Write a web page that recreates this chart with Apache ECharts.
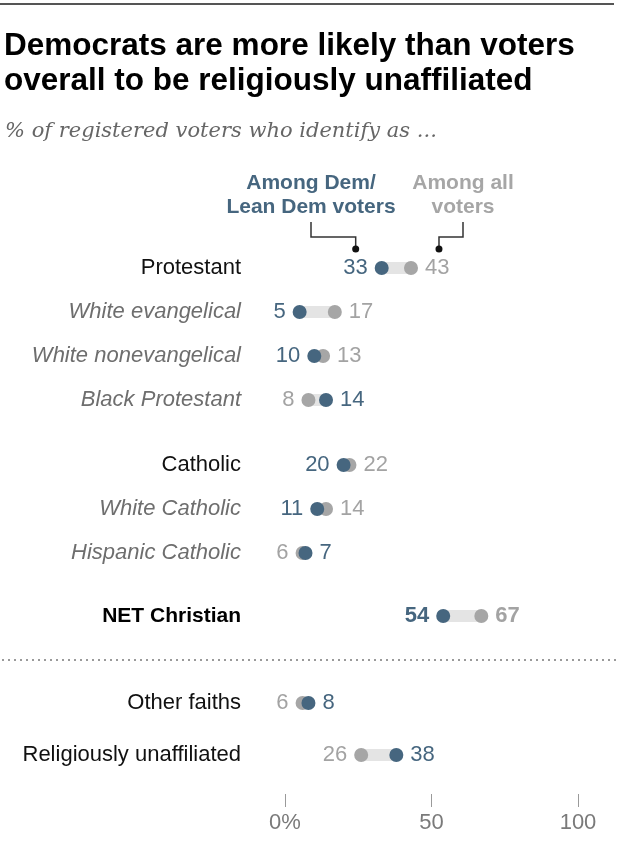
<!DOCTYPE html>
<html><head><meta charset="utf-8">
<script src="https://cdn.jsdelivr.net/npm/echarts@6/dist/echarts.min.js"></script>
<style>html,body{margin:0;padding:0;background:#fff}#c{width:620px;height:845px}</style>
</head><body><div id="c"></div>
<script>
// ---- data ----
const protestantCats = ['Protestant', 'White evangelical', 'White nonevangelical', 'Black Protestant'];
const protestantDem = [33, 5, 10, 14];
const protestantAll = [43, 17, 13, 8];
const catholicCats = ['Catholic', 'White Catholic', 'Hispanic Catholic'];
const catholicDem = [20, 11, 7];
const catholicAll = [22, 14, 6];
const netCats = ['NET Christian'];
const netDem = [54];
const netAll = [67];
const otherCats = ['Other faiths', 'Religiously unaffiliated'];
const otherDem = [8, 38];
const otherAll = [6, 26];
const subRows = ['White evangelical', 'White nonevangelical', 'Black Protestant', 'White Catholic', 'Hispanic Catholic'];
const xTickValues = [0, 50, 100];
const xTickLabels = ['0%', '50', '100'];
const titleLines = ['Democrats are more likely than voters', 'overall to be religiously unaffiliated'];
const subtitleText = '% of registered voters who identify as ...';
const demLabel = 'Among Dem/\nLean Dem voters';
const allLabel = 'Among all\nvoters';

// ---- style ----
const DEM = '#46667f', ALL = '#a6a6a6', ALLTXT = '#a3a3a3', BAR = '#e4e4e4';
const SANS = '"Liberation Sans", Arial, sans-serif';
const SERIF = '"DejaVu Serif", "Liberation Serif", serif';

const groups = [
  { cats: protestantCats, dem: protestantDem, all: protestantAll, top: 246, step: 44 },
  { cats: catholicCats, dem: catholicDem, all: catholicAll, top: 443, step: 44 },
  { cats: netCats, dem: netDem, all: netAll, top: 594, step: 44, bold: true },
  { cats: otherCats, dem: otherDem, all: otherAll, top: 677, step: 52, axis: true }
];

const grid = [], xAxis = [], yAxis = [], series = [];
groups.forEach((g, i) => {
  grid.push({ left: 285, width: 293, top: g.top, height: g.step * g.cats.length });
  xAxis.push({
    type: 'value', gridIndex: i, min: 0, max: 100, interval: 50,
    show: !!g.axis, offset: 13,
    axisLine: { show: false },
    axisTick: { show: true, length: 13, lineStyle: { color: '#9a9a9a', width: 1 } },
    splitLine: { show: false },
    axisLabel: {
      margin: 18, fontSize: 22, color: '#7a7a7a', fontFamily: SANS,
      formatter: v => { const k = xTickValues.indexOf(v); return k >= 0 ? xTickLabels[k] : ''; }
    }
  });
  yAxis.push({
    type: 'category', gridIndex: i, data: g.cats, inverse: true,
    axisLine: { show: false }, axisTick: { show: false }, splitLine: { show: false },
    axisLabel: {
      margin: 44, fontFamily: SANS,
      formatter: name => subRows.indexOf(name) >= 0 ? '{s|' + name + '}' : (g.bold ? '{b|' + name + '}' : '{m|' + name + '}'),
      rich: {
        s: { fontSize: 22, fontStyle: 'italic', color: '#6e6e6e', fontFamily: SANS },
        m: { fontSize: 22, color: '#111', fontFamily: SANS },
        b: { fontSize: 21, fontWeight: 'bold', color: '#000', fontFamily: SANS }
      }
    }
  });
  series.push({
    type: 'custom', xAxisIndex: i, yAxisIndex: i, z: 1, silent: true,
    encode: { x: [0, 1], y: 2 },
    data: g.cats.map((c, j) => [g.dem[j], g.all[j], j]),
    renderItem: (params, api) => {
      const a = api.coord([api.value(0), api.value(2)]);
      const b = api.coord([api.value(1), api.value(2)]);
      return { type: 'rect', shape: { x: Math.min(a[0], b[0]), y: a[1] - 6, width: Math.abs(b[0] - a[0]), height: 12 }, style: { fill: BAR } };
    }
  });
  const mk = (vals, other, color, txt, z) => ({
    type: 'scatter', xAxisIndex: i, yAxisIndex: i, z: z, symbolSize: 14, silent: true,
    itemStyle: { color: color, opacity: 1 },
    data: g.cats.map((c, j) => ({
      value: [vals[j], j],
      label: { position: vals[j] < other[j] ? 'left' : 'right' }
    })),
    label: {
      show: true, distance: 7, fontSize: 22, color: txt, fontFamily: SANS,
      fontWeight: g.bold ? 'bold' : 'normal',
      formatter: p => String(p.value[0])
    }
  });
  series.push(mk(g.all, g.dem, ALL, ALLTXT, 2));
  series.push(mk(g.dem, g.all, DEM, DEM, 3));
});

const chart = echarts.init(document.getElementById('c'), null, { renderer: 'canvas' });
chart.setOption({
  animation: false,
  backgroundColor: '#fff',
  grid, xAxis, yAxis, series
});

// annotation positioned from data coordinates
const pDem = chart.convertToPixel({ xAxisIndex: 0, yAxisIndex: 0 }, [protestantDem[0], 0]);
const pAll = chart.convertToPixel({ xAxisIndex: 0, yAxisIndex: 0 }, [protestantAll[0], 0]);
const dDemX = pDem[0] - 26, dAllX = pAll[0] + 28, dY = pDem[1] - 19;
const demTxtX = 311, allTxtX = 463;
chart.setOption({
  graphic: [
    { type: 'line', shape: { x1: 0, y1: 4, x2: 614, y2: 4 }, style: { stroke: '#555', lineWidth: 2 } },
    { type: 'text', x: 4, y: 46, style: { text: titleLines[0], fill: '#000', font: 'bold 31.5px ' + SANS, textVerticalAlign: 'middle' } },
    { type: 'text', x: 4, y: 81, style: { text: titleLines[1], fill: '#000', font: 'bold 31.5px ' + SANS, textVerticalAlign: 'middle' } },
    { type: 'text', x: 5, y: 132, style: { text: subtitleText, fill: '#666', font: 'italic 21px ' + SERIF, textVerticalAlign: 'middle' } },
    { type: 'line', shape: { x1: 2, y1: 660, x2: 618, y2: 660 }, style: { stroke: '#9a9a9a', lineWidth: 2, lineDash: [2, 4] } },
    { type: 'text', x: demTxtX, y: 171, style: { text: demLabel, fill: DEM, font: 'bold 21px ' + SANS, textAlign: 'center', lineHeight: 24 } },
    { type: 'text', x: allTxtX, y: 171, style: { text: allLabel, fill: ALL, font: 'bold 21px ' + SANS, textAlign: 'center', lineHeight: 24 } },
    { type: 'polyline', shape: { points: [[demTxtX, 222], [demTxtX, 237], [dDemX, 237], [dDemX, dY]] }, style: { stroke: '#333', lineWidth: 1.5, fill: null } },
    { type: 'polyline', shape: { points: [[allTxtX, 222], [allTxtX, 237], [dAllX, 237], [dAllX, dY]] }, style: { stroke: '#333', lineWidth: 1.5, fill: null } },
    { type: 'circle', shape: { cx: dDemX, cy: dY, r: 3.5 }, style: { fill: '#111' } },
    { type: 'circle', shape: { cx: dAllX, cy: dY, r: 3.5 }, style: { fill: '#111' } }
  ]
});
</script></body></html>
